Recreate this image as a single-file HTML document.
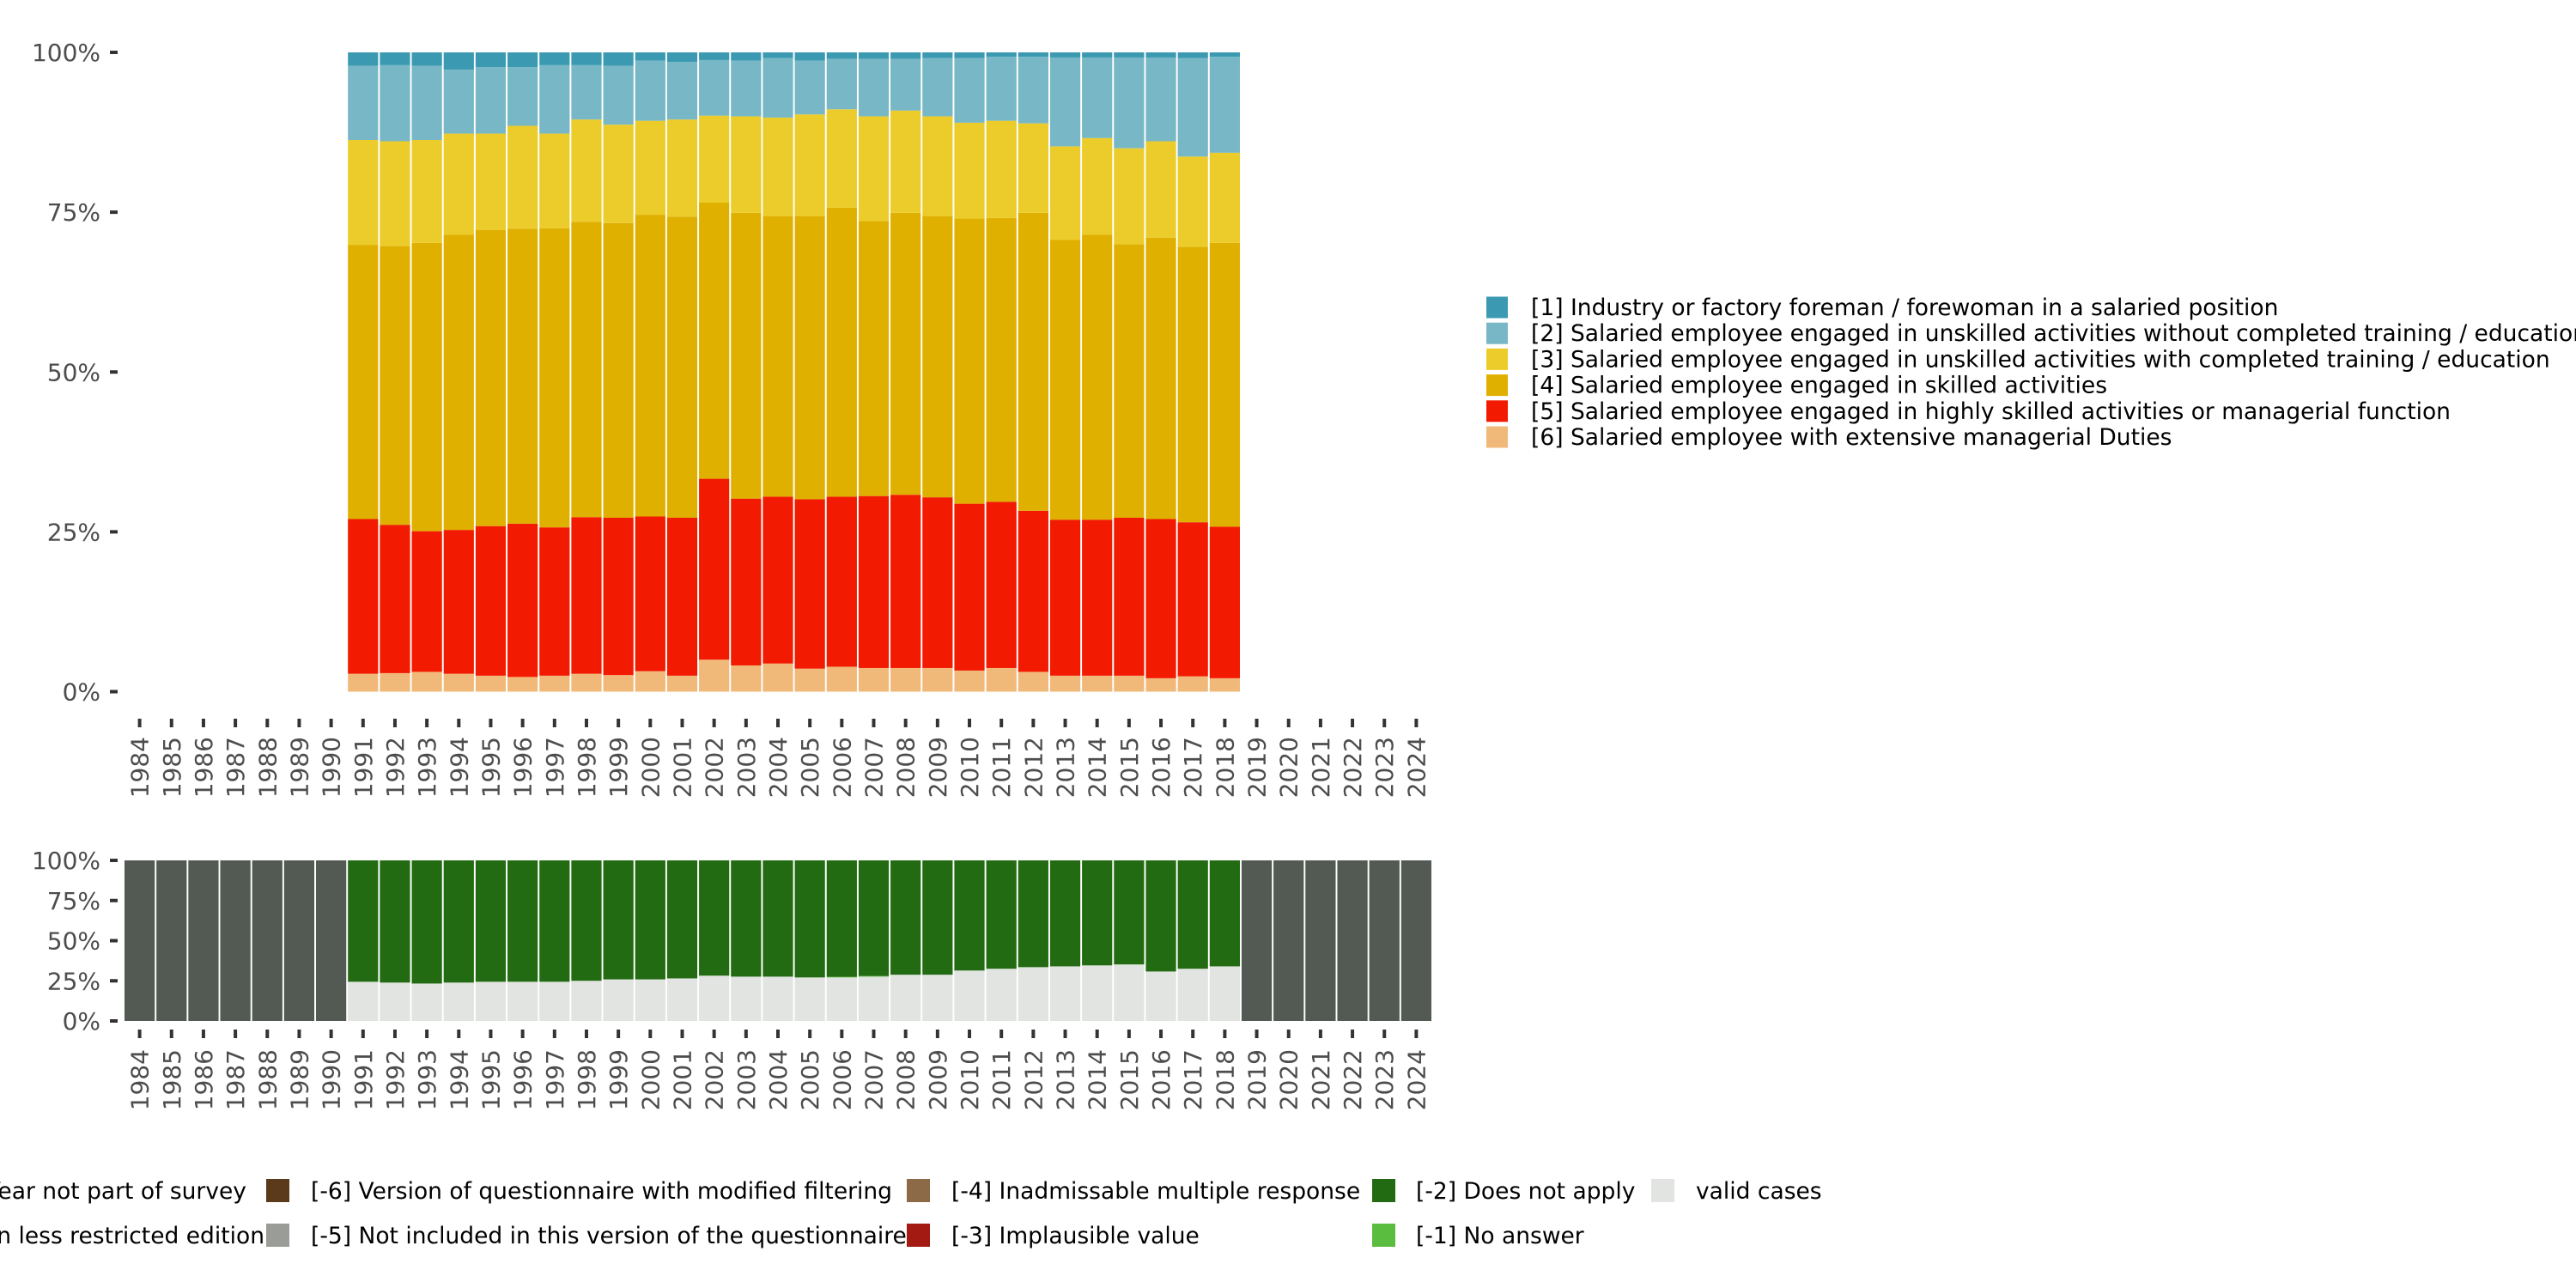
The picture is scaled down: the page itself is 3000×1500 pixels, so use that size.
<!DOCTYPE html>
<html><head><meta charset="utf-8"><style>
html,body{margin:0;padding:0;background:#fff;width:3000px;height:1500px;overflow:hidden}
svg{display:block;font-family:"DejaVu Sans","Liberation Sans",sans-serif}
</style></head><body>
<svg id="chart" width="3000" height="1500" viewBox="0 0 3000 1500" xmlns="http://www.w3.org/2000/svg"></svg>
<script>
const years = [];
for (let y = 1984; y <= 2024; y++) years.push(String(y));
const surveyYears = ["1991","1992","1993","1994","1995","1996","1997","1998","1999","2000","2001","2002","2003","2004","2005","2006","2007","2008","2009","2010","2011","2012","2013","2014","2015","2016","2017","2018"];
const s6 = [2.8,2.9,3.1,2.8,2.5,2.3,2.5,2.8,2.6,3.2,2.5,5.0,4.1,4.4,3.6,3.9,3.7,3.7,3.7,3.3,3.7,3.1,2.5,2.5,2.5,2.1,2.4,2.1];
const s5 = [24.2,23.2,22.0,22.5,23.4,24.0,23.2,24.5,24.6,24.2,24.7,28.3,26.1,26.1,26.5,26.6,26.9,27.1,26.7,26.1,26.0,25.2,24.4,24.4,24.7,24.9,24.1,23.7];
const s4 = [42.9,43.6,45.1,46.2,46.3,46.2,46.8,46.2,46.1,47.2,47.1,43.2,44.7,43.9,44.3,45.2,43.0,44.1,44.0,44.6,44.4,46.6,43.8,44.6,42.8,44.0,43.1,44.4];
const s3 = [16.4,16.4,16.1,15.8,15.1,16.1,14.8,16.0,15.4,14.7,15.2,13.6,15.1,15.4,15.9,15.4,16.4,16.0,15.6,15.0,15.2,14.0,14.6,15.1,15.0,15.1,14.1,14.1];
const s2 = [11.6,11.9,11.6,10.0,10.4,9.2,10.7,8.5,9.2,9.4,9.0,8.7,8.7,9.3,8.4,7.9,9.0,8.1,9.1,10.1,10.0,10.4,13.9,12.6,14.2,13.1,15.4,15.0];
const s1 = [2.1,2.0,2.1,2.7,2.3,2.3,2.0,2.0,2.1,1.3,1.5,1.2,1.3,0.9,1.3,1.0,1.0,1.0,0.9,0.9,0.7,0.7,0.8,0.8,0.8,0.8,0.9,0.7];
const validCases = [24.4,23.9,23.3,23.9,24.4,24.4,24.4,25.0,25.9,25.9,26.5,28.2,27.6,27.6,27.1,27.1,27.6,28.8,28.8,31.4,32.5,33.5,34.0,34.6,35.2,30.8,32.5,34.0];
const noAnswer = [0,0,0,0,0,0,0,0,0,0,0,0,0,0,0,0.4,0.4,0,0,0,0,0,0,0,0,0,0,0];
const yTicks = [0,25,50,75,100];
const yTickLabels = ["0%","25%","50%","75%","100%"];
const topSeries = [
 {name:"[6] Salaried employee with extensive managerial Duties", vals:s6, color:"#f0b97a", key:"cat-6"},
 {name:"[5] Salaried employee engaged in highly skilled activities or managerial function", vals:s5, color:"#f21a00", key:"cat-5"},
 {name:"[4] Salaried employee engaged in skilled activities", vals:s4, color:"#e0b000", key:"cat-4"},
 {name:"[3] Salaried employee engaged in unskilled activities with completed training / education", vals:s3, color:"#ebcc2a", key:"cat-3"},
 {name:"[2] Salaried employee engaged in unskilled activities without completed training / education", vals:s2, color:"#78b7c5", key:"cat-2"},
 {name:"[1] Industry or factory foreman / forewoman in a salaried position", vals:s1, color:"#3b9ab2", key:"cat-1"}
];
const NS = "http://www.w3.org/2000/svg";
const svg = document.getElementById('chart');
function el(tag, attrs, parent){const e=document.createElementNS(NS,tag);for(const k in attrs)e.setAttribute(k,attrs[k]);(parent||svg).appendChild(e);return e;}
const x0 = 162.6, step = 37.17, barW = 35.2;
function xPos(year){return x0 + years.indexOf(year)*step;}
function yTop(v){return 805.5 - v/100*744.5;}
function yBot(v){return 1189 - v/100*187;}

const topG = el('g',{});


surveyYears.forEach((yr,i)=>{
  let cum=0;
  const tot = topSeries.reduce((a,s)=>a+s.vals[i],0);
  topSeries.forEach(s=>{
    const v=s.vals[i]/tot*100;
    const yA=yTop(cum), yB=yTop(cum+v);
    const r=el('rect',{x:xPos(yr)-barW/2,y:yB,width:barW,height:yA-yB,fill:s.color},topG);
    
    
    cum+=v;
  });
});
function yAxis(fn, name){
  const g=el('g',{});
  
  
  yTicks.forEach((t,i)=>{
    el('line',{x1:128,x2:137,y1:fn(t),y2:fn(t),stroke:'#333','stroke-width':4},g);
    const tx=el('text',{x:117,y:fn(t)+10,'text-anchor':'end','font-size':28,fill:'#4d4d4d'},g);
    tx.textContent=yTickLabels[i];
  });
}
function xAxis(tickY, textY, name){
  const g=el('g',{});
  
  
  years.forEach(yr=>{
    const x=xPos(yr);
    el('line',{x1:x,x2:x,y1:tickY,y2:tickY+10,stroke:'#333','stroke-width':4},g);
    const tx=el('text',{transform:`translate(${x+10},${textY}) rotate(-90)`,'text-anchor':'end','font-size':28,fill:'#4d4d4d'},g);
    tx.textContent=yr;
  });
}
yAxis(yTop,'top-y-axis');
xAxis(837,858,'top-x-axis');

const lg=el('g',{});


topSeries.slice().reverse().forEach((s,i)=>{
  const cy=358+i*30.2;
  const it=el('g',{},lg);
  
  
  el('rect',{x:1731,y:cy-12.5,width:25,height:25,fill:s.color},it);
  const t=el('text',{x:1783,y:cy+9,'font-size':26.5,fill:'#000'},it);
  t.textContent=s.name;
});

const botG=el('g',{});


years.forEach(yr=>{
  const i=surveyYears.indexOf(yr);
  const x=xPos(yr)-barW/2;
  if(i<0){
    const r=el('rect',{x:x,y:yBot(100),width:barW,height:yBot(0)-yBot(100),fill:'#535953'},botG);
    
    
    return;
  }
  const v=validCases[i], n=noAnswer[i];
  const r1=el('rect',{x:x,y:yBot(v),width:barW,height:yBot(0)-yBot(v),fill:'#e1e4e0'},botG);
  
  
  if(n>0){
    const r2=el('rect',{x:x,y:yBot(v+n),width:barW,height:yBot(v)-yBot(v+n),fill:'#5bbd3f'},botG);
    
    
  }
  const r3=el('rect',{x:x,y:yBot(100),width:barW,height:yBot(v+n)-yBot(100),fill:'#236b12'},botG);
  
  
});
yAxis(yBot,'bottom-y-axis');
xAxis(1199,1222,'bottom-x-axis');
</script>
<svg style="position:absolute;left:0;top:0" width="3000" height="1500" font-family="DejaVu Sans, Liberation Sans, sans-serif" font-size="26.5">
 <g><text x="287" y="1396" text-anchor="end">[-8] Year not part of survey</text></g>
 <g><text x="308" y="1448" text-anchor="end">[-7] Only available in less restricted edition</text></g>
 <g><rect x="310" y="1373" width="27" height="27" fill="#5a3a1a"/><text x="362" y="1396">[-6] Version of questionnaire with modified filtering</text></g>
 <g><rect x="310" y="1425" width="27" height="27" fill="#9a9c98"/><text x="362" y="1448">[-5] Not included in this version of the questionnaire</text></g>
 <g><rect x="1056" y="1373" width="27" height="27" fill="#8c6a48"/><text x="1108" y="1396">[-4] Inadmissable multiple response</text></g>
 <g><rect x="1056" y="1425" width="27" height="27" fill="#a31a12"/><text x="1108" y="1448">[-3] Implausible value</text></g>
 <g><rect x="1598" y="1373" width="27" height="27" fill="#236b12"/><text x="1649" y="1396">[-2] Does not apply</text></g>
 <g><rect x="1598" y="1425" width="27" height="27" fill="#5bbd3f"/><text x="1649" y="1448">[-1] No answer</text></g>
 <g><rect x="1923" y="1373" width="27" height="27" fill="#e1e4e0"/><text x="1975" y="1396">valid cases</text></g>
</svg>
</body></html>
